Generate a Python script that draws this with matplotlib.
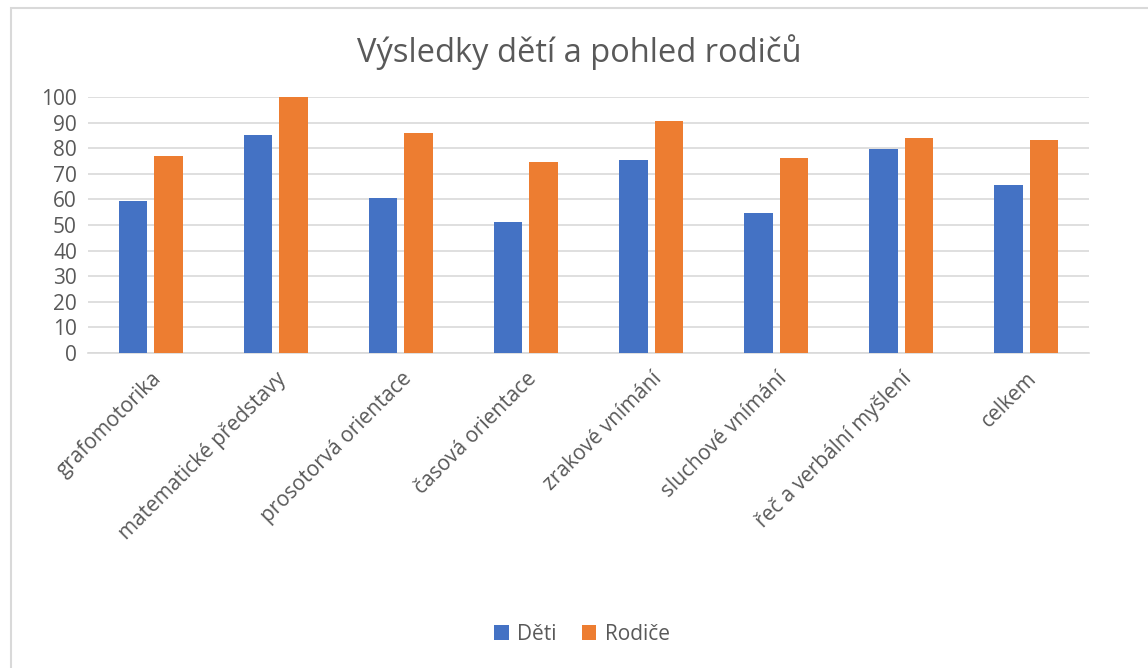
import numpy as np
import matplotlib.pyplot as plt
from matplotlib.patches import Rectangle

# data
categories = ["grafomotorika", "matematické představy", "prosotorvá orientace",
              "časová orientace", "zrakové vnímání", "sluchové vnímání",
              "řeč a verbální myšlení", "celkem"]
deti = [59.2, 85.3, 60.7, 51.0, 75.2, 54.8, 79.8, 65.6]
rodice = [76.8, 100.0, 85.9, 74.7, 90.6, 76.3, 83.8, 83.1]
yticks = list(range(0, 101, 10))

plt.rcParams['font.family'] = ['Open Sans', 'DejaVu Sans']
txt = '#595959'

fig = plt.figure(figsize=(11.48, 6.68), dpi=100)
# light frame of the chart area, cut off at right and bottom
fig.patches.append(Rectangle((10.5 / 1148, -10 / 668), 1200 / 1148, 670.5 / 668,
                             transform=fig.transFigure, fill=False,
                             edgecolor='#d9d9d9', linewidth=1.5))

ax = fig.add_axes([88 / 1148, 1 - 353 / 668, 1001 / 1148, 256 / 668])

x = np.arange(len(categories))
w = 0.228
gap = 0.056
ax.bar(x - (w + gap) / 2, deti, w, color='#4472C4', label='Děti', zorder=3)
ax.bar(x + (w + gap) / 2, rodice, w, color='#ED7D31', label='Rodiče', zorder=3)

ax.set_xlim(-0.5, len(categories) - 0.5)
ax.set_ylim(0, 100)
ax.set_yticks(yticks)
ax.yaxis.grid(True, color='#d9d9d9', linewidth=1.2, zorder=0)
ax.tick_params(axis='y', length=0, labelsize=15, labelcolor=txt, pad=8)
ax.tick_params(axis='x', length=0, labelsize=15, labelcolor=txt, pad=11)
ax.set_xticks(x)
ax.set_xticklabels(categories, rotation=45, ha='right', rotation_mode='anchor')
for s in ['top', 'right', 'left']:
    ax.spines[s].set_visible(False)
ax.spines['bottom'].set_color('#d9d9d9')
ax.spines['bottom'].set_linewidth(1.2)

fig.text(0.505, 1 - 52 / 668, 'Výsledky dětí a pohled rodičů', ha='center',
         va='center', fontsize=23.5, color=txt)

fig.legend(loc='center', bbox_to_anchor=(0.507, 1 - 634 / 668), ncol=2,
           frameon=False, fontsize=15, labelcolor=txt, handlelength=0.7,
           handleheight=0.7, handletextpad=0.4, columnspacing=1.2)

fig.savefig('out.png', dpi=100)
